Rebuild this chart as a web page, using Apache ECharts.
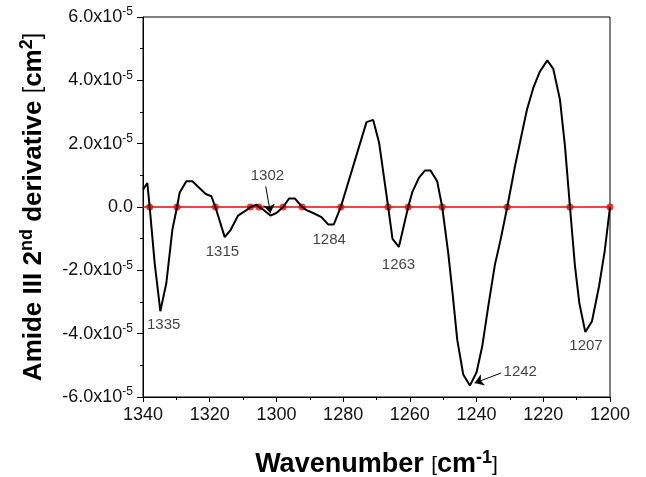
<!DOCTYPE html>
<html>
<head>
<meta charset="utf-8">
<script src="https://cdn.jsdelivr.net/npm/echarts@6/dist/echarts.min.js"></script>
<style>html,body{margin:0;padding:0;background:#fff}#c{width:646px;height:477px}</style>
</head>
<body>
<div id="c"></div>
<script>
// Wavenumber (cm^-1)
var wavenumber = [1340, 1338.7, 1338, 1336.5, 1334.8, 1333, 1331.2, 1329.8, 1329, 1327, 1325.2, 1321.2, 1319.5, 1318.3, 1315.5, 1313.7, 1311.5, 1309, 1307.8, 1306, 1305.2, 1304, 1301.8, 1300, 1298, 1296.2, 1294.5, 1292.3, 1291, 1289, 1286.5, 1284.5, 1282.8, 1280.7, 1273, 1271, 1269.2, 1266.5, 1265.2, 1263.3, 1260.5, 1259.3, 1257.3, 1255.5, 1253.8, 1251.8, 1250.3, 1248.5, 1247.2, 1245.8, 1244, 1242, 1240, 1238.3, 1236.5, 1234.5, 1232.8, 1230.8, 1228.5, 1226.5, 1224.9, 1223, 1221, 1218.8, 1217, 1215, 1213.5, 1212, 1210.5, 1209.2, 1207.4, 1205.4, 1203.3, 1201.6, 1200];
// Amide III 2nd derivative, in units of 10^-5 cm^2
var secondDerivative = [0.55, 0.76, 0, -1.77, -3.29, -2.4, -0.72, 0, 0.46, 0.81, 0.81, 0.41, 0.34, 0, -0.95, -0.72, -0.27, -0.1, 0, 0.07, 0, -0.08, -0.27, -0.19, 0, 0.27, 0.27, 0, -0.1, -0.19, -0.32, -0.55, -0.55, 0, 2.68, 2.75, 2.02, 0, -1.01, -1.26, 0, 0.46, 0.92, 1.15, 1.15, 0.81, 0, -1.45, -2.72, -4.19, -5.29, -5.64, -5.22, -4.4, -3.14, -1.82, -1.03, 0, 1.28, 2.28, 3.07, 3.76, 4.28, 4.63, 4.36, 3.39, 1.92, 0, -1.87, -3.03, -3.95, -3.61, -2.51, -1.4, 0];
// zero crossings (red dots)
var zeroCrossings = [1338, 1329.8, 1318.3, 1307.8, 1305.2, 1298, 1292.3, 1280.7, 1266.5, 1260.5, 1250.3, 1230.8, 1212, 1200];
// peak annotations: label, anchor wavenumber, anchor value
var peakLabels = ['1335', '1315', '1302', '1284', '1263', '1242', '1207'];
var peakLabelX = [1333.8, 1316.2, 1302.7, 1284.2, 1263.4, 1226.9, 1207.2];
var peakLabelY = [-3.71, -1.43, 0.97, -1.05, -1.84, -5.22, -4.37];
// arrows [fromX, fromY, toX, toY]
var arrows = [[1303.2, 0.65, 1301.8, -0.2], [1232.6, -5.24, 1240.6, -5.56]];
var xTicks = {min: 1200, max: 1340, interval: 20};
var yTicks = {min: -6, max: 6, interval: 2};

var curve = wavenumber.map(function (w, i) { return [w, secondDerivative[i]]; });
var dots = zeroCrossings.map(function (w) { return [w, 0]; });
var labelData = peakLabels.map(function (t, i) { return {name: t, value: [peakLabelX[i], peakLabelY[i]]}; });
var arrowData = arrows.map(function (a) { return [{coord: [a[0], a[1]]}, {coord: [a[2], a[3]]}]; });

var FONT = 'Arial, "Liberation Sans", sans-serif';
var chart = echarts.init(document.getElementById('c'));
chart.setOption({
  animation: false,
  backgroundColor: '#fff',
  grid: {left: 143, right: 36, top: 17, bottom: 80, show: true, borderColor: '#000', borderWidth: 1,
    containLabel: false, outerBoundsMode: 'none'},
  xAxis: {
    type: 'value', inverse: true, min: xTicks.min, max: xTicks.max, interval: xTicks.interval,
    axisLine: {show: true, onZero: false, lineStyle: {color: '#000', width: 1}},
    axisTick: {show: true, length: 5, lineStyle: {color: '#000'}},
    minorTick: {show: true, splitNumber: 2, length: 3, lineStyle: {color: '#000'}},
    splitLine: {show: false},
    axisLabel: {color: '#111', fontSize: 18, fontFamily: FONT, margin: 9,
      formatter: function (v) { return String(v); }},
    name: '{b|Wavenumber }{k|[}{b|cm}{s|-1}{k|]}',
    nameLocation: 'middle', nameGap: 52,
    nameTextStyle: {
      rich: {
        b: {fontSize: 27, fontWeight: 'bold', fontFamily: FONT, color: '#000', lineHeight: 32},
        k: {fontSize: 21, fontFamily: FONT, color: '#000', lineHeight: 32},
        s: {fontSize: 18, fontWeight: 'bold', fontFamily: FONT, color: '#000', verticalAlign: 'top', lineHeight: 32}
      }
    }
  },
  yAxis: {
    type: 'value', min: yTicks.min, max: yTicks.max, interval: yTicks.interval,
    axisLine: {show: true, onZero: false, lineStyle: {color: '#000', width: 1}},
    axisTick: {show: true, length: 6, lineStyle: {color: '#000'}},
    minorTick: {show: true, splitNumber: 2, length: 3, lineStyle: {color: '#000'}},
    splitLine: {show: false},
    axisLabel: {
      margin: 10,
      formatter: function (v) {
        if (Math.abs(v) < 1e-9) return '{n|0.0}';
        return '{n|' + v.toFixed(1) + 'x10}{s|-5}';
      },
      rich: {
        n: {fontSize: 18, fontFamily: FONT, color: '#111', lineHeight: 22},
        s: {fontSize: 12, fontFamily: FONT, color: '#111', verticalAlign: 'top', lineHeight: 22}
      }
    },
    name: '{b|Amide III 2}{s|nd}{b| derivative }{k|[}{b|cm}{s|2}{k|]}',
    nameLocation: 'middle', nameGap: 94, nameRotate: 90,
    nameTextStyle: {
      rich: {
        b: {fontSize: 26, fontWeight: 'bold', fontFamily: FONT, color: '#000', lineHeight: 31},
        k: {fontSize: 23, fontFamily: FONT, color: '#000', lineHeight: 31},
        s: {fontSize: 18, fontWeight: 'bold', fontFamily: FONT, color: '#000', verticalAlign: 'top', lineHeight: 31}
      }
    }
  },
  series: [
    {
      type: 'line', data: [[xTicks.max, 0], [xTicks.min, 0]], showSymbol: false, silent: true,
      lineStyle: {color: '#ff0000', width: 1.5}, z: 2
    },
    {
      type: 'scatter', data: dots, symbol: 'circle', symbolSize: 7, clip: false,
      itemStyle: {color: '#ff0000'}, z: 3, silent: true
    },
    {
      type: 'line', data: curve, showSymbol: false, silent: true,
      lineStyle: {color: '#000', width: 2}, z: 4,
      markLine: {
        silent: true, symbol: ['none', 'arrow'], symbolSize: 9,
        lineStyle: {color: '#000', width: 1, type: 'solid'},
        itemStyle: {color: '#000'},
        label: {show: false},
        data: arrowData
      }
    },
    {
      type: 'scatter', data: labelData, symbolSize: 0.1, silent: true, z: 5,
      label: {show: true, position: 'inside', formatter: '{b}', color: '#111', fontSize: 15, fontFamily: FONT}
    }
  ]
});
</script>
</body>
</html>
